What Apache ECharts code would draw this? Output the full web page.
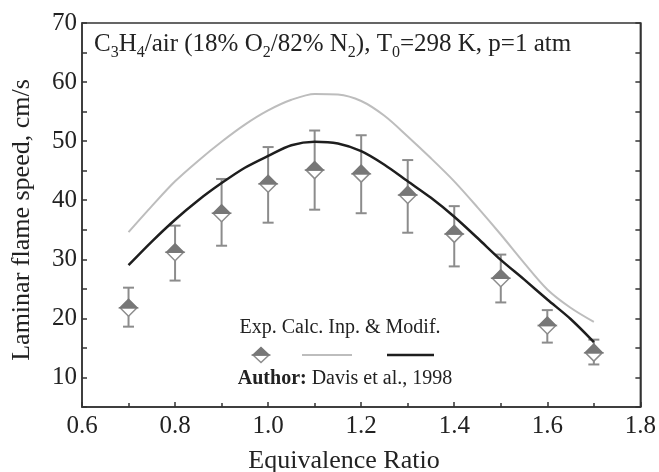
<!DOCTYPE html>
<html>
<head>
<meta charset="utf-8">
<script src="https://cdn.jsdelivr.net/npm/echarts@6/dist/echarts.min.js"></script>
<style>
  html, body { margin: 0; padding: 0; background: #fff; }
  #chart { width: 659px; height: 472px; }
</style>
</head>
<body>
<div id="chart"></div>
<script>
// experimental points (Davis et al., 1998)
const phiExp = [0.7, 0.8, 0.9, 1.0, 1.1, 1.2, 1.3, 1.4, 1.5, 1.6, 1.7]
const speedExp = [21.8, 31.2, 37.8, 42.8, 45.1, 44.5, 40.9, 34.3, 26.8, 18.8, 14.2]
const errLow = [18.6, 26.4, 32.3, 36.2, 38.4, 37.8, 34.5, 28.8, 22.7, 15.9, 12.2]
const errHigh = [25.2, 35.7, 43.6, 49.0, 51.8, 51.0, 46.8, 39.0, 30.8, 21.4, 16.4]

// calculated curves
const phiCalc = [0.70, 0.75, 0.80, 0.85, 0.90, 0.95, 1.00, 1.05, 1.10, 1.15, 1.20,
  1.25, 1.30, 1.35, 1.40, 1.45, 1.50, 1.55, 1.60, 1.65, 1.70]
const calcInp = [34.6, 39.0, 43.2, 46.7, 49.9, 52.8, 55.2, 57.0, 58.0, 57.9, 56.8,
  54.3, 50.8, 47.1, 43.2, 38.8, 34.2, 29.4, 24.9, 21.8, 19.4]
const calcModif = [29.0, 33.0, 36.7, 40.0, 42.9, 45.5, 47.5, 49.3, 49.9, 49.6, 48.3,
  46.0, 43.2, 40.4, 37.2, 33.6, 29.9, 26.6, 23.2, 19.9, 16.0]

const FONT = '"Liberation Serif", "Times New Roman", serif'
const TXT = '#222'
const BAR = '#8c8c8c'
const FILL = '#777'

const chart = echarts.init(document.getElementById('chart'))

const expRows = phiExp.map((p, i) => [p, speedExp[i], errLow[i], errHigh[i]])

function renderExp (params, api) {
  const c = api.coord([api.value(0), api.value(1)])
  const lo = api.coord([api.value(0), api.value(2)])
  const hi = api.coord([api.value(0), api.value(3)])
  const cap = 5.5
  const w = 8.5
  const h = 8.5
  return {
    type: 'group',
    children: [
      { type: 'line', shape: { x1: c[0], y1: lo[1], x2: c[0], y2: hi[1] }, style: { stroke: BAR, lineWidth: 2 } },
      { type: 'line', shape: { x1: c[0] - cap, y1: lo[1], x2: c[0] + cap, y2: lo[1] }, style: { stroke: BAR, lineWidth: 2 } },
      { type: 'line', shape: { x1: c[0] - cap, y1: hi[1], x2: c[0] + cap, y2: hi[1] }, style: { stroke: BAR, lineWidth: 2 } },
      {
        type: 'polygon',
        shape: { points: [[c[0] - w, c[1]], [c[0], c[1] + h], [c[0] + w, c[1]]] },
        style: { fill: '#fff', stroke: BAR, lineWidth: 1.5 }
      },
      {
        type: 'polygon',
        shape: { points: [[c[0] - w, c[1]], [c[0], c[1] - h], [c[0] + w, c[1]]] },
        style: { fill: FILL, stroke: FILL, lineWidth: 1.5 }
      }
    ]
  }
}

const axisLabel = { fontFamily: FONT, fontSize: 25, color: TXT }

const option = {
  backgroundColor: '#fff',
  animation: false,
  grid: { left: 82, right: 15, top: 23, bottom: 65, show: true, borderColor: '#333', borderWidth: 1.5 },
  xAxis: {
    type: 'value',
    min: 0.6,
    max: 1.8,
    interval: 0.2,
    axisLine: { lineStyle: { color: '#333', width: 1.5 } },
    axisTick: { inside: true, length: 5, lineStyle: { color: '#333', width: 1.5 } },
    minorTick: { show: true, splitNumber: 2, length: 4, lineStyle: { color: '#333', width: 1.5 } },
    splitLine: { show: false },
    axisLabel: Object.assign({ margin: 7, formatter: v => v.toFixed(1) }, axisLabel)
  },
  yAxis: [{
    type: 'value',
    min: 5,
    max: 70,
    interval: 5,
    axisLine: { lineStyle: { color: '#333', width: 1.5 } },
    axisTick: { inside: true, length: 5, lineStyle: { color: '#333', width: 1.5 } },
    splitLine: { show: false },
    axisLabel: Object.assign({ margin: 5, formatter: v => (v % 10 === 0 ? String(v) : '') }, axisLabel)
  }, {
    type: 'value',
    position: 'right',
    min: 5,
    max: 70,
    interval: 5,
    axisLine: { show: true, lineStyle: { color: '#333', width: 1.5 } },
    axisTick: { inside: true, length: 5, lineStyle: { color: '#333', width: 1.5 } },
    splitLine: { show: false },
    axisLabel: { show: false }
  }],
  series: [{
    name: 'Exp.',
    type: 'custom',
    renderItem: renderExp,
    encode: { x: 0, y: 1 },
    data: expRows,
    z: 2
  }, {
    name: 'Calc. Inp.',
    type: 'line',
    data: phiCalc.map((p, i) => [p, calcInp[i]]),
    smooth: 0.3,
    showSymbol: false,
    lineStyle: { color: '#bdbdbd', width: 2 },
    z: 3
  }, {
    name: 'Modif.',
    type: 'line',
    data: phiCalc.map((p, i) => [p, calcModif[i]]),
    smooth: 0.3,
    showSymbol: false,
    lineStyle: { color: '#1e1e1e', width: 2.5 },
    z: 4
  }],
  graphic: [
    // in-plot title
    {
      type: 'text',
      left: 94,
      top: 32,
      style: {
        text: 'C{s|3}H{s|4}/air (18% O{s|2}/82% N{s|2}), T{s|0}=298 K, p=1 atm',
        font: '25px ' + FONT,
        fill: TXT,
        rich: { s: { fontSize: 16, fontFamily: FONT, padding: [16, 0, 0, 0], fill: TXT } }
      }
    },
    // axis names
    {
      type: 'text',
      x: 22,
      y: 220,
      rotation: Math.PI / 2,
      style: {
        text: 'Laminar flame speed, cm/s',
        font: '26px ' + FONT,
        fill: TXT,
        textAlign: 'center',
        textVerticalAlign: 'middle',
        align: 'center',
        verticalAlign: 'middle'
      }
    },
    {
      type: 'text',
      x: 344,
      y: 461,
      style: {
        text: 'Equivalence Ratio',
        font: '26px ' + FONT,
        fill: TXT,
        textAlign: 'center',
        textVerticalAlign: 'middle',
        align: 'center',
        verticalAlign: 'middle'
      }
    },
    // legend block
    {
      type: 'text',
      x: 340,
      y: 328,
      style: {
        text: 'Exp. Calc. Inp. & Modif.',
        font: '20px ' + FONT,
        fill: TXT,
        textAlign: 'center',
        textVerticalAlign: 'middle',
        align: 'center',
        verticalAlign: 'middle'
      }
    },
    {
      type: 'polygon',
      shape: { points: [[253, 355], [261, 362.5], [269, 355]] },
      style: { fill: '#fff', stroke: BAR, lineWidth: 1.5 }
    },
    {
      type: 'polygon',
      shape: { points: [[253, 355], [261, 347.5], [269, 355]] },
      style: { fill: FILL, stroke: FILL, lineWidth: 1.5 }
    },
    {
      type: 'line',
      shape: { x1: 302, y1: 355, x2: 352, y2: 355 },
      style: { stroke: '#bdbdbd', lineWidth: 2 }
    },
    {
      type: 'line',
      shape: { x1: 387, y1: 355, x2: 434, y2: 355 },
      style: { stroke: '#1e1e1e', lineWidth: 2.5 }
    },
    {
      type: 'text',
      x: 345,
      y: 379,
      style: {
        text: '{b|Author:} Davis et al., 1998',
        font: '20px ' + FONT,
        fill: TXT,
        textAlign: 'center',
        textVerticalAlign: 'middle',
        align: 'center',
        verticalAlign: 'middle',
        rich: { b: { fontWeight: 'bold', fontSize: 20, fontFamily: FONT, fill: TXT } }
      }
    }
  ]
}

chart.setOption(option)
</script>
</body>
</html>
